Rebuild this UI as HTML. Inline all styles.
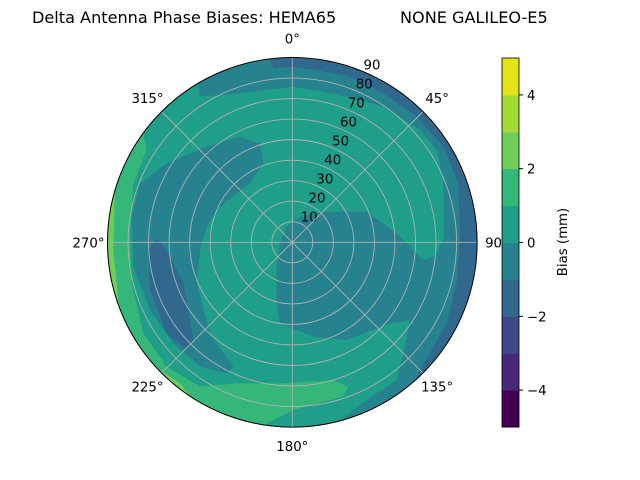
<!DOCTYPE html>
<html><head><meta charset="utf-8"><style>
body{margin:0;background:#fff;}
svg{display:block;font-family:"DejaVu Sans","Liberation Sans",sans-serif;}
</style></head><body>
<svg id="chart" width="640" height="480" viewBox="0 0 640 480">
<rect width="640" height="480" fill="#fff"/>
<text x="32" y="23" font-size="16.1" fill="#000">Delta Antenna Phase Biases: HEMA65</text>
<text x="400" y="23" font-size="16.1" fill="#000">NONE GALILEO-E5</text>
<defs><clipPath id="pc"><circle cx="292.3" cy="242.3" r="184.8"/></clipPath></defs>
<g id="plot" clip-path="url(#pc)"></g>
<g id="grid"></g>
<g id="cbar"></g>
</svg>
<script>
// colorbar levels and band colours
const levels = [-5,-4,-3,-2,-1,0,1,2,3,4,5];
const bandColors = ["#440154","#482878","#3e4989","#31688e","#26828e","#1f9e89","#35b779","#6ece58","#a2da37","#e2e418"];
const cbarTicks = [-4,-2,0,2,4];
const ringLabels = [10,20,30,40,50,60,70,80,90];
const azLabels = [0,45,90,135,180,225,270,315];
// contour regions: [bandIndex, points in reference-grid units (center 577,577; 6.17 units per zenith degree)]
const regions = [
 [4,[[200,0],[290,60],[300,140],[420,130],[577,110],[700,130],[850,170],[960,240],[1010,300],[1030,390],[1030,570],[1000,620],[970,630],[900,560],[850,520],[800,485],[670,485],[600,500],[560,530],[540,580],[530,650],[530,760],[540,820],[640,860],[740,870],[870,820],[930,810],[910,910],[890,990],[800,1050],[700,1130],[650,1170],[1200,1200],[1200,0]]],
 [3,[[500,0],[520,55],[577,50],[650,60],[750,80],[850,130],[950,200],[1030,290],[1075,400],[1080,570],[1070,700],[1040,820],[960,960],[940,1000],[850,1120],[1200,1200],[1200,0]]],
 [4,[[320,290],[420,260],[480,280],[490,340],[450,400],[360,470],[320,530],[300,600],[290,700],[330,850],[400,950],[380,970],[300,950],[220,880],[150,780],[100,650],[95,500],[120,400],[200,340]]],
 [3,[[170,565],[200,600],[250,700],[280,870],[260,900],[200,850],[150,720],[145,600]]],
 [6,[[0,200],[130,250],[140,300],[100,400],[90,550],[95,700],[130,850],[200,950],[300,1010],[400,1000],[550,1000],[700,990],[745,1010],[730,1040],[580,1080],[500,1120],[400,1200],[0,1200]]],
 [7,[[0,380],[45,400],[40,600],[60,800],[120,900],[180,960],[240,1000],[280,1050],[0,1200]]]
];
const CX=292.3, CY=242.3, R=184.8, RMAX=90;
const gx = u => 100 + u/3;
const gy = u => 50 + u/3;
const rad = z => z/RMAX*R;
const NS="http://www.w3.org/2000/svg";
function mk(tag, attrs, parent){const e=document.createElementNS(NS,tag);for(const k in attrs)e.setAttribute(k,attrs[k]);parent.appendChild(e);return e;}
const plot=document.getElementById('plot'), grid=document.getElementById('grid'), cbar=document.getElementById('cbar');
const bg=mk('circle',{cx:CX,cy:CY,r:R,fill:bandColors[5]},plot);


regions.forEach((rg,i)=>{
 const p=mk('polygon',{points:rg[1].map(q=>gx(q[0])+','+gy(q[1])).join(' '),fill:bandColors[rg[0]]},plot);
 
 
});
ringLabels.forEach(z=>{
 const c=mk('circle',{cx:CX,cy:CY,r:rad(z),fill:'none',stroke:'#b0b0b0','stroke-width':0.9},grid);
 
 
 const a=22.5*Math.PI/180;
 const t=mk('text',{x:CX+rad(z)*Math.sin(a)+9,y:CY-rad(z)*Math.cos(a)-2,'font-size':13.3,'text-anchor':'middle'},grid);
 t.textContent=z;
 
 
});
azLabels.forEach(az=>{
 const a=az*Math.PI/180;
 const l=mk('line',{x1:CX,y1:CY,x2:CX+R*Math.sin(a),y2:CY-R*Math.cos(a),stroke:'#b0b0b0','stroke-width':0.9},grid);
 
 
 const t=mk('text',{x:CX+(R+20)*Math.sin(a),y:CY-(R+19)*Math.cos(a)+5,'font-size':13.3,'text-anchor':az==90?'start':(az==270?'end':'middle')},grid);
 if(az==90)t.setAttribute('x',CX+R+8);
 if(az==270)t.setAttribute('x',CX-R-3);
 t.textContent=az+'°';
 
 
});
const border=mk('circle',{cx:CX,cy:CY,r:R,fill:'none',stroke:'#000','stroke-width':1},grid);


// colorbar
const CBX=502, CBW=17, CBT=58, CBB=427;
const cy = v => CBB - (v-levels[0])/(levels[levels.length-1]-levels[0])*(CBB-CBT);
for(let i=0;i<levels.length-1;i++){
 const r=mk('rect',{x:CBX,y:cy(levels[i+1]),width:CBW,height:cy(levels[i])-cy(levels[i+1])+0.5,fill:bandColors[i]},cbar);
 
 
}
const cb=mk('rect',{x:CBX,y:CBT,width:CBW,height:CBB-CBT,fill:'none',stroke:'#000','stroke-width':0.8},cbar);


cbarTicks.forEach(v=>{
 const l=mk('line',{x1:CBX+CBW,x2:CBX+CBW+4,y1:cy(v),y2:cy(v),stroke:'#000'},cbar);
 
 
 const t=mk('text',{x:CBX+CBW+8,y:cy(v)+5,'font-size':13.3},cbar);
 t.textContent=v<0?'\u2212'+(-v):String(v);
 
 
});
const tt=mk('text',{x:0,y:0,'font-size':13.3,'text-anchor':'middle',transform:'translate(567,242) rotate(-90)'},cbar);
tt.textContent='Bias (mm)';


</script>
</body></html>
